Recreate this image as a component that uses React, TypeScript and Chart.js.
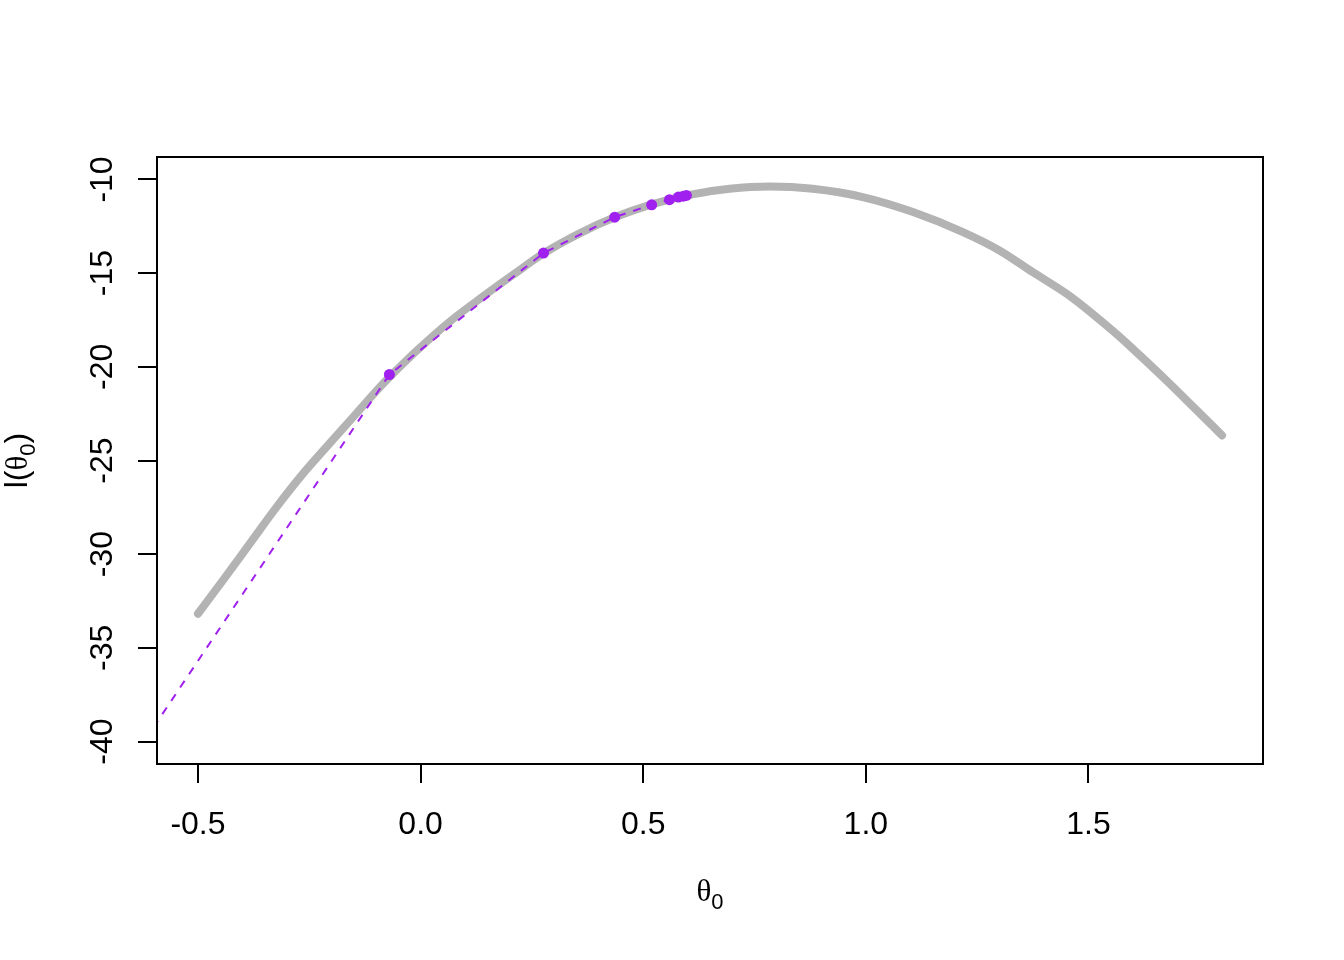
import React, { useEffect, useRef } from "react";
import { Chart, registerables } from "chart.js";

Chart.register(...registerables);

// Gray profile curve l(theta0)
const curveX = [-0.5, -0.444, -0.384, -0.324, -0.264, -0.204, -0.144, -0.085, -0.07, 0.0, 0.07, 0.14, 0.21, 0.276, 0.355, 0.436, 0.519, 0.604, 0.694, 0.784, 0.881, 0.993, 1.106, 1.218, 1.301, 1.375, 1.451, 1.503, 1.563, 1.6, 1.676, 1.736, 1.8];
const curveY = [-33.18, -31.4, -29.45, -27.5, -25.7, -24.08, -22.48, -20.92, -20.55, -18.95, -17.5, -16.25, -15.05, -13.95, -12.9, -12.02, -11.33, -10.82, -10.5, -10.38, -10.5, -10.94, -11.74, -12.81, -13.8, -14.95, -16.1, -17.05, -18.25, -19.05, -20.75, -22.15, -23.66];

// Purple iterates (first one is the starting value, outside the plot region)
const iterX = [-0.6, -0.07, 0.276, 0.436, 0.519, 0.559, 0.579, 0.59, 0.597];
const iterY = [-39.25, -20.41, -13.93, -12.01, -11.35, -11.08, -10.94, -10.89, -10.85];

const xTicks = [-0.5, 0.0, 0.5, 1.0, 1.5];
const xTickLabels = ["-0.5", "0.0", "0.5", "1.0", "1.5"];
const yTicks = [-40, -35, -30, -25, -20, -15, -10];
const yTickLabels = ["-40", "-35", "-30", "-25", "-20", "-15", "-10"];

const SANS = "'Liberation Sans', Arial, sans-serif";
const SERIF = "'Liberation Serif', 'DejaVu Serif', serif";

const rPlot = {
  id: "rPlot",
  afterDraw(chart: any) {
    const ctx = chart.ctx;
    const ca = chart.chartArea;
    const xs = chart.scales.x;
    const ys = chart.scales.y;
    ctx.save();
    // box
    ctx.strokeStyle = "#000";
    ctx.lineWidth = 2;
    ctx.strokeRect(ca.left, ca.top, ca.right - ca.left, ca.bottom - ca.top);

    ctx.fillStyle = "#000";
    ctx.font = `32px ${SANS}`;
    ctx.textAlign = "center";
    ctx.textBaseline = "alphabetic";
    // x tick labels
    xTicks.forEach((v, i) => {
      ctx.fillText(xTickLabels[i], xs.getPixelForValue(v), 834);
    });
    // y tick labels (rotated)
    yTicks.forEach((v, i) => {
      ctx.save();
      ctx.translate(112, ys.getPixelForValue(v));
      ctx.rotate(-Math.PI / 2);
      ctx.fillText(yTickLabels[i], 0, 0);
      ctx.restore();
    });

    const parts = (pre: string, post: string) => [
      { t: pre, f: `32px ${SANS}`, dy: 0 },
      { t: "\u03b8", f: `31px ${SERIF}`, dy: 0 },
      { t: "0", f: `22px ${SANS}`, dy: 8 },
      { t: post, f: `32px ${SANS}`, dy: 0 },
    ];
    const drawParts = (ps: any[], cx: number, by: number) => {
      let w = 0;
      ps.forEach((p) => {
        ctx.font = p.f;
        w += ctx.measureText(p.t).width;
      });
      let x = cx - w / 2;
      ctx.textAlign = "left";
      ps.forEach((p) => {
        ctx.font = p.f;
        ctx.fillText(p.t, x, by + p.dy);
        x += ctx.measureText(p.t).width;
      });
    };
    // x title
    drawParts(parts("", ""), (ca.left + ca.right) / 2, 901);
    // y title
    ctx.save();
    ctx.translate(27, (ca.top + ca.bottom) / 2);
    ctx.rotate(-Math.PI / 2);
    drawParts(parts("l(", ")"), 0, 0);
    ctx.restore();
    ctx.restore();
  },
};

export default function App() {
  const ref = useRef<HTMLCanvasElement | null>(null);
  useEffect(() => {
    document.body.style.margin = "0";
    const canvas = ref.current!;
    const chart = new Chart(canvas, {
      type: "scatter",
      data: {
        datasets: [
          {
            data: curveX.map((x, i) => ({ x, y: curveY[i] })),
            showLine: true,
            borderColor: "#B3B3B3",
            borderWidth: 8,
            borderCapStyle: "round",
            borderJoinStyle: "round",
            cubicInterpolationMode: "monotone",
            pointRadius: 0,
            order: 2,
          },
          {
            data: iterX.map((x, i) => ({ x, y: iterY[i] })),
            showLine: true,
            borderColor: "#A020F0",
            backgroundColor: "#A020F0",
            borderWidth: 2,
            borderDash: [8, 8],
            pointRadius: (c: any) => (c.dataIndex === 0 ? 0 : 5.5),
            pointBorderWidth: 0,
            order: 1,
          },
        ],
      } as any,
      options: {
        animation: false,
        responsive: false,
        devicePixelRatio: 1,
        events: [],
        layout: { padding: { top: 157, right: 81, left: 0, bottom: 0 } },
        plugins: { legend: { display: false }, tooltip: { enabled: false } },
        scales: {
          x: {
            type: "linear",
            min: -0.592,
            max: 1.892,
            afterBuildTicks: (s: any) => {
              s.ticks = xTicks.map((v) => ({ value: v }));
            },
            afterFit: (s: any) => {
              s.height = 196;
            },
            ticks: { display: false },
            grid: { display: true, drawOnChartArea: false, drawTicks: true, tickLength: 19, color: "#000", lineWidth: 2 },
            border: { display: true, color: "#000", width: 2 },
          },
          y: {
            type: "linear",
            min: -41.2,
            max: -8.8,
            afterBuildTicks: (s: any) => {
              s.ticks = yTicks.map((v) => ({ value: v }));
            },
            afterFit: (s: any) => {
              s.width = 157;
            },
            ticks: { display: false },
            grid: { display: true, drawOnChartArea: false, drawTicks: true, tickLength: 19, color: "#000", lineWidth: 2 },
            border: { display: true, color: "#000", width: 2 },
          },
        },
      } as any,
      plugins: [rPlot],
    });
    return () => chart.destroy();
  }, []);
  return (
    <div style={{ position: "absolute", left: 0, top: 0, width: 1344, height: 960, background: "#fff" }}>
      <canvas ref={ref} width={1344} height={960} style={{ width: 1344, height: 960 }} />
    </div>
  );
}
